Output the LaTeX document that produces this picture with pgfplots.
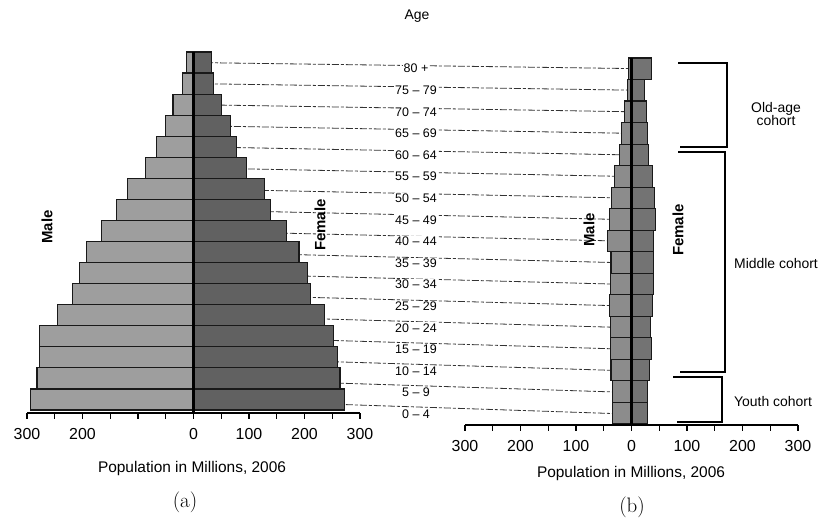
\documentclass[border=0pt]{standalone}
\usepackage{pgfplots}
\pgfplotsset{compat=1.18}
\usepackage{pgfplotstable}
\usepackage{fontspec}
\setsansfont{Liberation Sans}
\renewcommand{\familydefault}{\sfdefault}
\newcommand{\fs}[1]{\fontsize{#1}{#1}\selectfont}

% row: 0 = ages 0-4 ... 16 = 80+ ; values in millions
\pgfplotstableread{
row male female
0  293 272
1  282 264
2  278 259
3  278 252
4  245 236
5  218 211
6  206 205
7  192 190
8  166 168
9  139 139
10 119 128
11 86  96
12 66  78
13 51  66
14 37  50
15 20  36
16 13  33
}\dataA

\pgfplotstableread{
row male female
0  35 28
1  34 28
2  37 33
3  38 36
4  38 35
5  39 38
6  38 39
7  37 40
8  43 39
9  39 44
10 36 42
11 30 38
12 22 31
13 18 29
14 13 27
15 8  23
16 5  36
}\dataB

\pgfplotsset{
  pyr/.style={
    scale only axis, width=333bp,
    xmin=-300, xmax=300, enlargelimits=false,
    axis x line*=bottom, axis y line=none,
    axis line style={line width=2.2bp, black},
    xtick={-300,-250,...,300},
    tick style={line width=1.3bp, black},
    major tick length=6bp, tick align=outside,
    xticklabel style={font=\fs{16}, yshift=-6bp},
    ytick=\empty, clip=false,
  },
}

\begin{document}
\begin{tikzpicture}[x=1bp,y=1bp]
\path[use as bounding box] (0,0) rectangle (819,526);

% leader lines between the two pyramids
\foreach \i in {0,...,16} {
  \draw[black!80, line width=0.8bp, dash pattern=on 7bp off 2bp on 3bp off 2bp]
    (192,{116+21.06*(\i+0.5)}) -- (633,{101+21.6*(\i+0.5)});
}
\foreach \i/\lab in {0/0 – 4, 1/5 – 9, 2/10 – 14, 3/15 – 19, 4/20 – 24, 5/25 – 29,
  6/30 – 34, 7/35 – 39, 8/40 – 44, 9/45 – 49, 10/50 – 54, 11/55 – 59, 12/60 – 64,
  13/65 – 69, 14/70 – 74, 15/75 – 79, 16/80 +} {
  \node[fill=white, inner sep=1bp, font=\fs{12.5}] at (416,{101+21.6*(\i+0.5)}) {\lab};
}
\node[font=\fs{14}] at (417,510) {Age};

% (a)
\begin{axis}[pyr, at={(27bp,113bp)}, anchor=south west, height=361bp,
  ymin=-0.64, ymax=16.5,
  xticklabels={300,,200,,,,0,,100,,200,,300}]
\addplot[xbar, bar width=1, bar shift=0pt, fill=black!38, draw=black!90, line width=1.1bp]
  table[x expr=-\thisrow{male}, y=row]{\dataA};
\addplot[xbar, bar width=1, bar shift=0pt, fill=black!62, draw=black!90, line width=1.1bp]
  table[x=female, y=row]{\dataA};
\draw[line width=3.5bp] (axis cs:0,-0.64) -- (axis cs:0,16.5);
\end{axis}

% (b)
\begin{axis}[pyr, at={(465bp,101bp)}, anchor=south west, height=367bp,
  ymin=-0.55, ymax=16.5,
  xticklabels={300,,200,,100,,0,,100,,200,,300}]
\addplot[xbar, bar width=1, bar shift=0pt, fill=black!45, draw=black!90, line width=1.1bp]
  table[x expr=-\thisrow{male}, y=row]{\dataB};
\addplot[xbar, bar width=1, bar shift=0pt, fill=black!55, draw=black!90, line width=1.1bp]
  table[x=female, y=row]{\dataB};
\draw[line width=3bp] (axis cs:0,-0.55) -- (axis cs:0,16.5);
\end{axis}

% Male / Female labels
\node[font=\bfseries\fs{15}, rotate=90] at (47,299) {Male};
\node[font=\bfseries\fs{15}, rotate=90] at (320,301) {Female};
\node[font=\bfseries\fs{15}, rotate=90] at (589,296) {Male};
\node[font=\bfseries\fs{15}, rotate=90] at (678,296) {Female};

% axis titles
\node[font=\fs{15.5}] at (192,57) {Population in Millions, 2006};
\node[font=\fs{15.5}] at (631,52) {Population in Millions, 2006};
\node[font=\rmfamily\fs{21}] at (185,24) {(a)};
\node[font=\rmfamily\fs{21}] at (632,19) {(b)};

% cohort brackets
\draw[line width=1.3bp] (678,463) -- (727,463) -- (727,379) -- (680,379);
\draw[line width=1.3bp] (678,374) -- (725,374) -- (725,154) -- (680,154);
\draw[line width=1.3bp] (673,149) -- (722,149) -- (722,104) -- (677,104);
\node[font=\fs{14}, align=center] at (776,412) {Old-age\\cohort};
\node[font=\fs{14}] at (776,262) {Middle cohort};
\node[font=\fs{14}] at (773,124) {Youth cohort};
\end{tikzpicture}
\end{document}
